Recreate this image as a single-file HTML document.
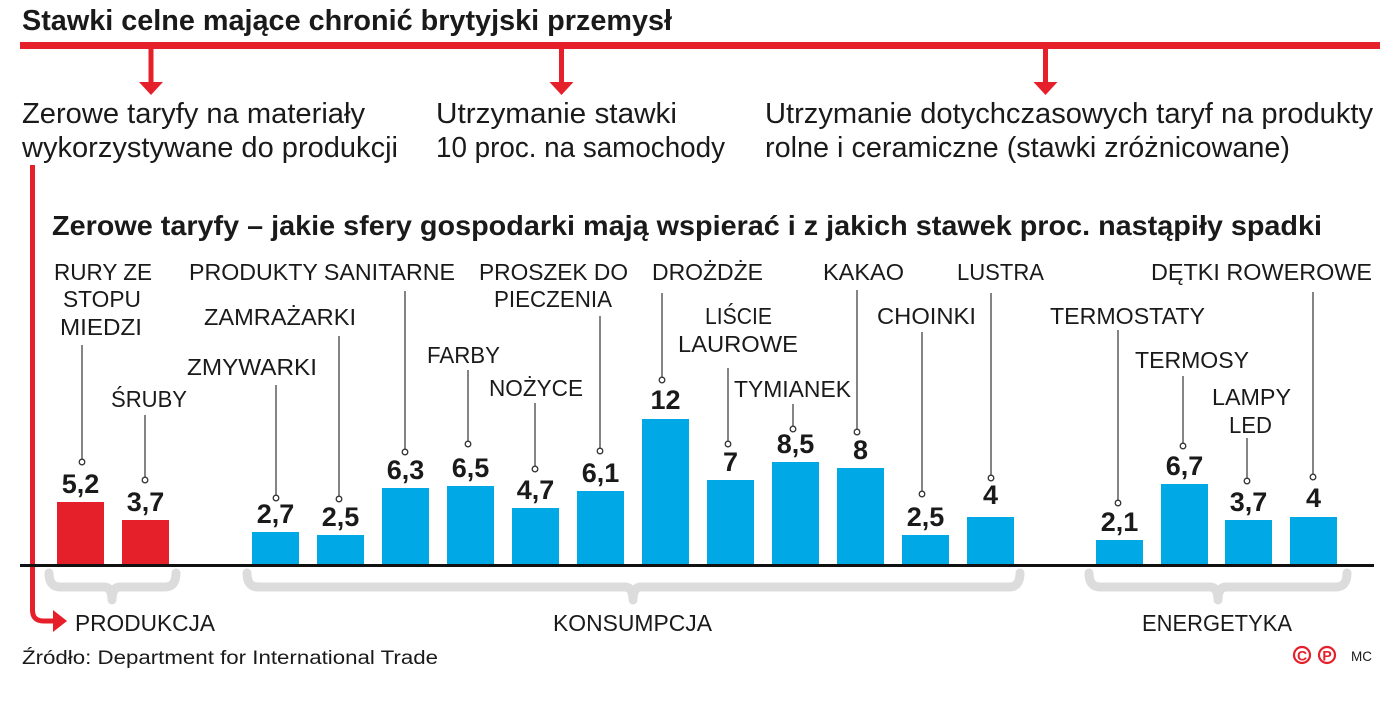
<!DOCTYPE html>
<html><head><meta charset="utf-8"><style>
html,body{margin:0;padding:0;background:#fff;}
svg{display:block;}
text{font-family:"Liberation Sans",sans-serif;fill:#1a1a1a;}
.t{font-weight:bold;font-size:29px;}
.t2{font-weight:bold;font-size:28px;}
.s{font-size:29px;}
.l{font-size:23px;}
.v{font-weight:bold;font-size:27px;text-anchor:middle;}
.ld{stroke:#333;stroke-width:1.2;}
.c{fill:#fff;stroke:#333;stroke-width:1.3;}
.br{fill:none;stroke:#dcdcdc;stroke-linejoin:round;stroke-linecap:round;}
</style></head><body>
<svg width="1400" height="708" viewBox="0 0 1400 708" xmlns="http://www.w3.org/2000/svg">
<!-- Title -->
<text class="t" x="22" y="30" textLength="650" lengthAdjust="spacingAndGlyphs">Stawki celne mające chronić brytyjski przemysł</text>
<rect x="20" y="42" width="1360" height="7" fill="#e5202a"/>
<!-- arrows -->
<g fill="#e5202a">
<rect x="148.5" y="48" width="5" height="36"/><polygon points="139,82 163,82 151,95"/>
<rect x="559" y="48" width="5" height="36"/><polygon points="549.5,82 573.5,82 561.5,95"/>
<rect x="1043" y="48" width="5" height="36"/><polygon points="1033.5,82 1057.5,82 1045.5,95"/>
</g>
<text class="s" x="22" y="123" textLength="343" lengthAdjust="spacingAndGlyphs">Zerowe taryfy na materiały</text>
<text class="s" x="22" y="157" textLength="376" lengthAdjust="spacingAndGlyphs">wykorzystywane do produkcji</text>
<text class="s" x="436" y="123" textLength="241" lengthAdjust="spacingAndGlyphs">Utrzymanie stawki</text>
<text class="s" x="436" y="157" textLength="289" lengthAdjust="spacingAndGlyphs">10 proc. na samochody</text>
<text class="s" x="765" y="123" textLength="608" lengthAdjust="spacingAndGlyphs">Utrzymanie dotychczasowych taryf na produkty</text>
<text class="s" x="765" y="157" textLength="525" lengthAdjust="spacingAndGlyphs">rolne i ceramiczne (stawki zróżnicowane)</text>
<!-- red connector -->
<path d="M32.5,165 L32.5,610 Q32.5,621 43.5,621 L56,621" fill="none" stroke="#e5202a" stroke-width="5"/>
<polygon points="53,610 67,621 53,632" fill="#e5202a"/>
<!-- Title 2 -->
<text class="t2" x="52" y="235" textLength="1270" lengthAdjust="spacingAndGlyphs">Zerowe taryfy – jakie sfery gospodarki mają wspierać i z jakich stawek proc. nastąpiły spadki</text>
<!-- bars -->
<g fill="#e5202a">
<rect x="57" y="502" width="47" height="63"/>
<rect x="122" y="520" width="47" height="45"/>
</g>
<g fill="#00a8e6">
<rect x="252" y="532" width="47" height="33"/>
<rect x="317" y="535" width="47" height="30"/>
<rect x="382" y="488" width="47" height="77"/>
<rect x="447" y="486" width="47" height="79"/>
<rect x="512" y="508" width="47" height="57"/>
<rect x="577" y="491" width="47" height="74"/>
<rect x="642" y="419" width="47" height="146"/>
<rect x="707" y="480" width="47" height="85"/>
<rect x="772" y="462" width="47" height="103"/>
<rect x="837" y="468" width="47" height="97"/>
<rect x="902" y="535" width="47" height="30"/>
<rect x="967" y="517" width="47" height="48"/>
<rect x="1096" y="540" width="47" height="25"/>
<rect x="1161" y="484" width="47" height="81"/>
<rect x="1225" y="520" width="47" height="45"/>
<rect x="1290" y="517" width="47" height="48"/>
</g>
<rect x="20" y="564" width="1354" height="3" fill="#111"/>
<!-- leader lines -->
<g class="ld">
<line x1="82" y1="345" x2="82" y2="460"/>
<line x1="145" y1="415" x2="145" y2="478"/>
<line x1="276" y1="385" x2="276" y2="496"/>
<line x1="339" y1="336" x2="339" y2="497"/>
<line x1="405" y1="291" x2="405" y2="450"/>
<line x1="468" y1="370" x2="468" y2="442"/>
<line x1="535" y1="403" x2="535" y2="467"/>
<line x1="600" y1="316" x2="600" y2="449"/>
<line x1="662" y1="293" x2="662" y2="378"/>
<line x1="728" y1="368" x2="728" y2="442"/>
<line x1="793" y1="404" x2="793" y2="427"/>
<line x1="857" y1="290" x2="857" y2="430"/>
<line x1="922" y1="332" x2="922" y2="492"/>
<line x1="991" y1="293" x2="991" y2="476"/>
<line x1="1118" y1="330" x2="1118" y2="501"/>
<line x1="1183" y1="376" x2="1183" y2="444"/>
<line x1="1247" y1="438" x2="1247" y2="479"/>
<line x1="1313" y1="292" x2="1313" y2="475"/>
</g>
<g class="c">
<circle cx="82" cy="462" r="2.8"/>
<circle cx="145" cy="480" r="2.8"/>
<circle cx="276" cy="498" r="2.8"/>
<circle cx="339" cy="499" r="2.8"/>
<circle cx="405" cy="452" r="2.8"/>
<circle cx="468" cy="444" r="2.8"/>
<circle cx="535" cy="469" r="2.8"/>
<circle cx="600" cy="451" r="2.8"/>
<circle cx="662" cy="380" r="2.8"/>
<circle cx="728" cy="444" r="2.8"/>
<circle cx="793" cy="429" r="2.8"/>
<circle cx="857" cy="432" r="2.8"/>
<circle cx="922" cy="494" r="2.8"/>
<circle cx="991" cy="478" r="2.8"/>
<circle cx="1118" cy="503" r="2.8"/>
<circle cx="1183" cy="446" r="2.8"/>
<circle cx="1247" cy="481" r="2.8"/>
<circle cx="1313" cy="477" r="2.8"/>
</g>
<!-- values -->
<text class="v" x="80.5" y="493">5,2</text>
<text class="v" x="145.5" y="511">3,7</text>
<text class="v" x="275.5" y="523">2,7</text>
<text class="v" x="340.5" y="526">2,5</text>
<text class="v" x="405.5" y="479">6,3</text>
<text class="v" x="470.5" y="477">6,5</text>
<text class="v" x="535.5" y="499">4,7</text>
<text class="v" x="600.5" y="482">6,1</text>
<text class="v" x="665.5" y="409">12</text>
<text class="v" x="730.5" y="471">7</text>
<text class="v" x="795.5" y="453">8,5</text>
<text class="v" x="860.5" y="459">8</text>
<text class="v" x="925.5" y="526">2,5</text>
<text class="v" x="990.5" y="504">4</text>
<text class="v" x="1119.5" y="531">2,1</text>
<text class="v" x="1184.5" y="475">6,7</text>
<text class="v" x="1248.5" y="511">3,7</text>
<text class="v" x="1313.5" y="507">4</text>
<!-- labels -->
<text class="l" x="54" y="280" textLength="98" lengthAdjust="spacingAndGlyphs">RURY ZE</text>
<text class="l" x="63" y="307" textLength="78" lengthAdjust="spacingAndGlyphs">STOPU</text>
<text class="l" x="60" y="335" textLength="82" lengthAdjust="spacingAndGlyphs">MIEDZI</text>
<text class="l" x="111" y="407" textLength="76" lengthAdjust="spacingAndGlyphs">ŚRUBY</text>
<text class="l" x="189" y="280" textLength="266" lengthAdjust="spacingAndGlyphs">PRODUKTY SANITARNE</text>
<text class="l" x="204" y="325" textLength="152" lengthAdjust="spacingAndGlyphs">ZAMRAŻARKI</text>
<text class="l" x="187" y="375" textLength="130" lengthAdjust="spacingAndGlyphs">ZMYWARKI</text>
<text class="l" x="427" y="363" textLength="73" lengthAdjust="spacingAndGlyphs">FARBY</text>
<text class="l" x="489" y="396" textLength="94" lengthAdjust="spacingAndGlyphs">NOŻYCE</text>
<text class="l" x="479" y="280" textLength="149" lengthAdjust="spacingAndGlyphs">PROSZEK DO</text>
<text class="l" x="494" y="307" textLength="118" lengthAdjust="spacingAndGlyphs">PIECZENIA</text>
<text class="l" x="652" y="280" textLength="111" lengthAdjust="spacingAndGlyphs">DROŻDŻE</text>
<text class="l" x="705" y="324" textLength="67" lengthAdjust="spacingAndGlyphs">LIŚCIE</text>
<text class="l" x="678" y="352" textLength="120" lengthAdjust="spacingAndGlyphs">LAUROWE</text>
<text class="l" x="734" y="397" textLength="117" lengthAdjust="spacingAndGlyphs">TYMIANEK</text>
<text class="l" x="823" y="280" textLength="81" lengthAdjust="spacingAndGlyphs">KAKAO</text>
<text class="l" x="877" y="324" textLength="99" lengthAdjust="spacingAndGlyphs">CHOINKI</text>
<text class="l" x="957" y="280" textLength="87" lengthAdjust="spacingAndGlyphs">LUSTRA</text>
<text class="l" x="1050" y="324" textLength="155" lengthAdjust="spacingAndGlyphs">TERMOSTATY</text>
<text class="l" x="1135" y="368" textLength="114" lengthAdjust="spacingAndGlyphs">TERMOSY</text>
<text class="l" x="1212" y="405" textLength="79" lengthAdjust="spacingAndGlyphs">LAMPY</text>
<text class="l" x="1229" y="433" textLength="43" lengthAdjust="spacingAndGlyphs">LED</text>
<text class="l" x="1151" y="280" textLength="221" lengthAdjust="spacingAndGlyphs">DĘTKI ROWEROWE</text>
<!-- braces -->
<g class="br">
<path d="M49,573 Q49,587 60,587 L104,587 Q112,587 112,600 Q112,587 120,587 L165,587 Q176,587 176,573" stroke-width="9"/>
<path d="M247,573 Q247,587 258,587 L625,587 Q633,587 633,600 Q633,587 641,587 L1009,587 Q1020,587 1020,573" stroke-width="9"/>
<path d="M1089,573 Q1089,587 1100,587 L1210,587 Q1218,587 1218,600 Q1218,587 1226,587 L1336,587 Q1347,587 1347,573" stroke-width="9"/>
</g>
<text class="l" x="75" y="631" textLength="140" lengthAdjust="spacingAndGlyphs">PRODUKCJA</text>
<text class="l" x="553" y="631" textLength="159" lengthAdjust="spacingAndGlyphs">KONSUMPCJA</text>
<text class="l" x="1142" y="631" textLength="150" lengthAdjust="spacingAndGlyphs">ENERGETYKA</text>
<!-- source -->
<text x="22" y="664" style="font-size:19px" textLength="416" lengthAdjust="spacingAndGlyphs">Źródło: Department for International Trade</text>
<g fill="none" stroke="#e5202a" stroke-width="2.2">
<circle cx="1302" cy="655" r="8"/>
<circle cx="1327" cy="655" r="8"/>
</g>
<text x="1302" y="660.5" style="font-size:14px;font-weight:bold;fill:#e5202a;text-anchor:middle">C</text>
<text x="1327" y="660.5" style="font-size:14px;font-weight:bold;fill:#e5202a;text-anchor:middle">P</text>
<text x="1351" y="661" style="font-size:14px" textLength="21" lengthAdjust="spacingAndGlyphs">MC</text>
</svg>
</body></html>
